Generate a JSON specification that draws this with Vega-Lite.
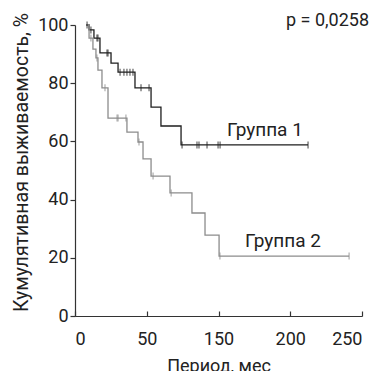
{
  "$schema": "https://vega.github.io/schema/vega-lite/v6.json",
  "width": 287,
  "height": 291,
  "autosize": "none",
  "padding": {"left": 75, "top": 25, "right": 20, "bottom": 55},
  "background": "white",
  "config": {
    "view": {"stroke": null},
    "font": "Roboto",
    "axis": {"grid": false, "domainColor": "#333", "tickColor": "#333", "labelColor": "#222", "titleColor": "#222", "labelFont": "Roboto", "titleFont": "Roboto", "labelFontSize": 18, "titleFontSize": 18, "titleFontWeight": "normal", "domainWidth": 1.2, "tickWidth": 1.2}
  },
  "datasets": {
    "steps": [
      {"g": "1", "t": 7.7, "s": 100}, {"g": "1", "t": 9.8, "s": 98.3}, {"g": "1", "t": 13.2, "s": 95.5}, {"g": "1", "t": 17.4, "s": 90.4}, {"g": "1", "t": 25.1, "s": 86.9}, {"g": "1", "t": 30.0, "s": 83.8}, {"g": "1", "t": 41.8, "s": 78.4}, {"g": "1", "t": 53.0, "s": 71.8}, {"g": "1", "t": 59.9, "s": 65.3}, {"g": "1", "t": 73.9, "s": 58.8}, {"g": "1", "t": 162.4, "s": 58.8},
      {"g": "2", "t": 7.7, "s": 100}, {"g": "2", "t": 9.8, "s": 95.5}, {"g": "2", "t": 12.5, "s": 91.7}, {"g": "2", "t": 14.6, "s": 88.7}, {"g": "2", "t": 16.0, "s": 84.5}, {"g": "2", "t": 18.8, "s": 78.4}, {"g": "2", "t": 23.0, "s": 68.0}, {"g": "2", "t": 36.2, "s": 63.2}, {"g": "2", "t": 43.9, "s": 59.8}, {"g": "2", "t": 47.4, "s": 54.0}, {"g": "2", "t": 53.0, "s": 48.1}, {"g": "2", "t": 66.2, "s": 42.3}, {"g": "2", "t": 81.5, "s": 35.4}, {"g": "2", "t": 90.6, "s": 27.8}, {"g": "2", "t": 100.4, "s": 20.6}, {"g": "2", "t": 191.0, "s": 20.6}
    ],
    "censor": [
      {"g": "1", "t": 8.4, "s": 100}, {"g": "1", "t": 11.1, "s": 98.3}, {"g": "1", "t": 15.3, "s": 95.5}, {"g": "1", "t": 16.0, "s": 95.5}, {"g": "1", "t": 22.3, "s": 90.4}, {"g": "1", "t": 23.0, "s": 90.4}, {"g": "1", "t": 31.4, "s": 83.8}, {"g": "1", "t": 34.1, "s": 83.8}, {"g": "1", "t": 36.2, "s": 83.8}, {"g": "1", "t": 38.3, "s": 83.8}, {"g": "1", "t": 40.4, "s": 83.8}, {"g": "1", "t": 46.0, "s": 78.4}, {"g": "1", "t": 51.6, "s": 78.4}, {"g": "1", "t": 74.6, "s": 58.8}, {"g": "1", "t": 85.0, "s": 58.8}, {"g": "1", "t": 86.4, "s": 58.8}, {"g": "1", "t": 92.0, "s": 58.8}, {"g": "1", "t": 99.7, "s": 58.8}, {"g": "1", "t": 101.1, "s": 58.8}, {"g": "1", "t": 162.4, "s": 58.8},
      {"g": "2", "t": 11.1, "s": 95.5}, {"g": "2", "t": 15.3, "s": 88.7}, {"g": "2", "t": 20.9, "s": 78.4}, {"g": "2", "t": 29.3, "s": 68.0}, {"g": "2", "t": 30.0, "s": 68.0}, {"g": "2", "t": 35.5, "s": 68.0}, {"g": "2", "t": 44.6, "s": 59.8}, {"g": "2", "t": 54.4, "s": 48.1}, {"g": "2", "t": 67.0, "s": 42.3}, {"g": "2", "t": 101.0, "s": 20.6}, {"g": "2", "t": 191.0, "s": 20.6}
    ],
    "labelsLeft": [
      {"t": 105.9, "s": 61.9, "txt": "Группа 1"},
      {"t": 118.5, "s": 23.7, "txt": "Группа 2"}
    ],
    "labelsRight": [
      {"t": 204.9, "s": 99.7, "txt": "p = 0,0258"}
    ]
  },
  "layer": [
    {
      "data": {"name": "steps"},
      "mark": {"type": "line", "interpolate": "step-after", "strokeWidth": 1.3},
      "encoding": {
        "x": {"field": "t", "type": "quantitative", "scale": {"domain": [0, 200], "nice": false},
          "axis": {"values": [0, 50, 100, 150, 200], "tickSize": -5, "labelPadding": 19, "title": "Период, мес", "titlePadding": 9,
            "labelExpr": "datum.value == 100 ? '150' : datum.value == 150 ? '200' : datum.value == 200 ? '250' : datum.label"}},
        "y": {"field": "s", "type": "quantitative", "scale": {"domain": [0, 100], "nice": false},
          "axis": {"values": [0, 20, 40, 60, 80, 100], "tickSize": 5, "labelPadding": 2, "title": "Кумулятивная выживаемость, %", "titleFontSize": 19.5, "titlePadding": 6, "titleY": 137}},
        "color": {"field": "g", "type": "nominal", "scale": {"domain": ["1", "2"], "range": ["#1e1e1e", "#8c8c8c"]}, "legend": null},
        "detail": {"field": "g"}
      }
    },
    {
      "data": {"name": "censor"},
      "mark": {"type": "tick", "orient": "vertical", "size": 7, "thickness": 1.2},
      "encoding": {
        "x": {"field": "t", "type": "quantitative"},
        "y": {"field": "s", "type": "quantitative"},
        "color": {"field": "g", "type": "nominal", "scale": {"domain": ["1", "2"], "range": ["#1e1e1e", "#8c8c8c"]}, "legend": null}
      }
    },
    {
      "data": {"name": "labelsLeft"},
      "mark": {"type": "text", "font": "Roboto", "fontSize": 19, "color": "#222", "align": "left", "baseline": "alphabetic", "clip": false},
      "encoding": {
        "x": {"field": "t", "type": "quantitative"},
        "y": {"field": "s", "type": "quantitative"},
        "text": {"field": "txt"}
      }
    },
    {
      "data": {"name": "labelsRight"},
      "mark": {"type": "text", "font": "Roboto", "fontSize": 18, "color": "#222", "align": "right", "baseline": "alphabetic", "clip": false},
      "encoding": {
        "x": {"field": "t", "type": "quantitative"},
        "y": {"field": "s", "type": "quantitative"},
        "text": {"field": "txt"}
      }
    }
  ]
}
